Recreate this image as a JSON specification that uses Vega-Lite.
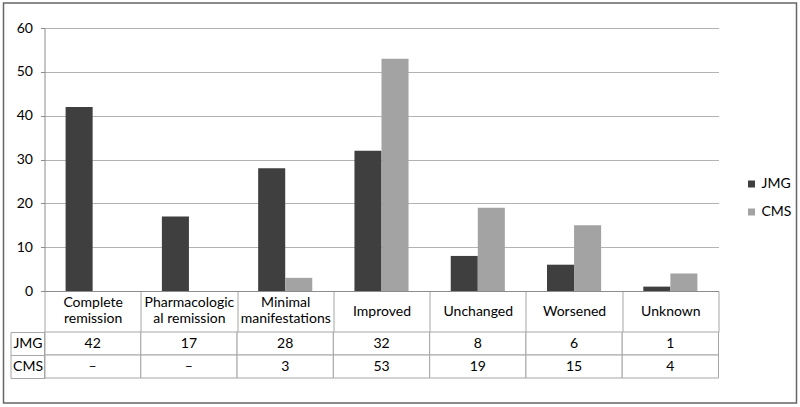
{
  "$schema": "https://vega.github.io/schema/vega-lite/v6.json",
  "padding": {"left": 3.5, "top": 3, "right": 0, "bottom": 0},
  "background": "white",
  "config": {
    "font": "Lato",
    "view": {"stroke": null},
    "axis": {"labelFont": "Lato", "labelFontSize": 14, "labelColor": "#000000"},
    "legend": {"labelFont": "Lato", "labelFontSize": 14, "labelColor": "#000000"},
    "text": {"font": "Lato", "fontSize": 14, "color": "#000000"}
  },
  "datasets": {
    "outcomes": [
      {"category": "Complete remission", "series": "JMG", "value": 42},
      {"category": "Complete remission", "series": "CMS", "value": null},
      {"category": "Pharmacological remission", "series": "JMG", "value": 17},
      {"category": "Pharmacological remission", "series": "CMS", "value": null},
      {"category": "Minimal manifestations", "series": "JMG", "value": 28},
      {"category": "Minimal manifestations", "series": "CMS", "value": 3},
      {"category": "Improved", "series": "JMG", "value": 32},
      {"category": "Improved", "series": "CMS", "value": 53},
      {"category": "Unchanged", "series": "JMG", "value": 8},
      {"category": "Unchanged", "series": "CMS", "value": 19},
      {"category": "Worsened", "series": "JMG", "value": 6},
      {"category": "Worsened", "series": "CMS", "value": 15},
      {"category": "Unknown", "series": "JMG", "value": 1},
      {"category": "Unknown", "series": "CMS", "value": 4}
    ]
  },
  "bounds": "flush",
  "spacing": 41,
  "vconcat": [
    {
      "width": 674,
      "height": 263,
      "data": {"name": "outcomes"},
      "mark": {"type": "bar", "strokeWidth": 1},
      "encoding": {
        "x": {
          "field": "category",
          "type": "nominal",
          "scale": {
            "domain": ["Complete remission", "Pharmacological remission", "Minimal manifestations", "Improved", "Unchanged", "Worsened", "Unknown"],
            "paddingInner": 0,
            "paddingOuter": 0
          },
          "axis": {
            "title": null,
            "labelAngle": 0,
            "domainColor": "#8c8c8c",
            "tickColor": "#a6a6a6",
            "tickBand": "extent",
            "tickSize": 41,
            "labelPadding": {
              "condition": {"test": "indexof(['Complete remission', 'Pharmacological remission', 'Minimal manifestations'], datum.label) >= 0", "value": -30},
              "value": -21
            },
            "labelBaseline": "middle",
            "labelLineHeight": 16,
            "labelOverlap": false,
            "labelFlush": false,
            "labelBound": false,
            "labelExpr": "datum.label == 'Complete remission' ? ['Complete', 'remission'] : datum.label == 'Pharmacological remission' ? ['Pharmacologic', 'al remission'] : datum.label == 'Minimal manifestations' ? ['Minimal', 'manifestations'] : datum.label"
          }
        },
        "xOffset": {
          "field": "series",
          "type": "nominal",
          "scale": {"domain": ["JMG", "CMS"], "paddingInner": 0, "paddingOuter": 0.78}
        },
        "y": {
          "field": "value",
          "type": "quantitative",
          "scale": {"domain": [0, 60], "nice": false},
          "axis": {
            "title": null,
            "values": [0, 10, 20, 30, 40, 50, 60],
            "grid": true,
            "gridColor": "#b3b3b3",
            "domainColor": "#8c8c8c",
            "tickColor": "#8c8c8c",
            "tickSize": 4,
            "labelPadding": 8
          }
        },
        "color": {
          "field": "series",
          "type": "nominal",
          "scale": {"domain": ["JMG", "CMS"], "range": ["#3f3f3f", "#a3a3a3"]},
          "legend": {
            "title": null,
            "orient": "none",
            "legendX": 700,
            "legendY": 149,
            "padding": 0,
            "symbolType": "square",
            "symbolSize": 49,
            "symbolStrokeWidth": 0,
            "rowPadding": 14,
            "labelOffset": 3
          }
        },
        "stroke": {
          "field": "value",
          "type": "quantitative",
          "scale": {"range": ["rgba(255,255,255,0)", "rgba(255,255,255,0)"]},
          "legend": {
            "title": null,
            "orient": "none",
            "direction": "vertical",
            "legendX": -41,
            "legendY": -25,
            "padding": 0,
            "labelExpr": "''",
            "labelOpacity": 0,
            "labelOffset": 0,
            "labelFontSize": 1,
            "tickCount": 1,
            "gradientLength": 400,
            "gradientThickness": 793,
            "gradientStrokeColor": "#666666",
            "gradientStrokeWidth": 1.5
          }
        }
      }
    },
    {
      "width": 674,
      "height": 46,
      "data": {"name": "outcomes"},
      "encoding": {
        "x": {
          "field": "category",
          "type": "nominal",
          "scale": {
            "domain": ["Complete remission", "Pharmacological remission", "Minimal manifestations", "Improved", "Unchanged", "Worsened", "Unknown"],
            "paddingInner": 0,
            "paddingOuter": 0
          },
          "axis": null
        }
      },
      "layer": [
        {
          "mark": {"type": "rect", "fill": "white", "stroke": "#a6a6a6", "strokeWidth": 1},
          "encoding": {
            "y": {
              "field": "series",
              "type": "nominal",
              "scale": {"domain": ["JMG", "CMS"], "paddingInner": 0, "paddingOuter": 0},
              "axis": {
                "title": null,
                "domainColor": "#a6a6a6",
                "tickColor": "#a6a6a6",
                "tickBand": "extent",
                "tickSize": 34,
                "labelAlign": "center",
                "labelBaseline": "middle",
                "labelPadding": -17
              }
            }
          }
        },
        {
          "mark": {"type": "text", "align": "center", "baseline": "middle"},
          "encoding": {
            "y": {
              "field": "series",
              "type": "nominal",
              "axis": {
                "title": null,
                "orient": "left",
                "offset": 34,
                "labels": false,
                "ticks": false,
                "domain": true,
                "domainColor": "#a6a6a6"
              }
            },
            "text": {
              "condition": {"test": "datum.value == null", "value": "–"},
              "field": "value",
              "type": "quantitative"
            }
          }
        }
      ],
      "resolve": {"axis": {"y": "independent"}}
    }
  ]
}
